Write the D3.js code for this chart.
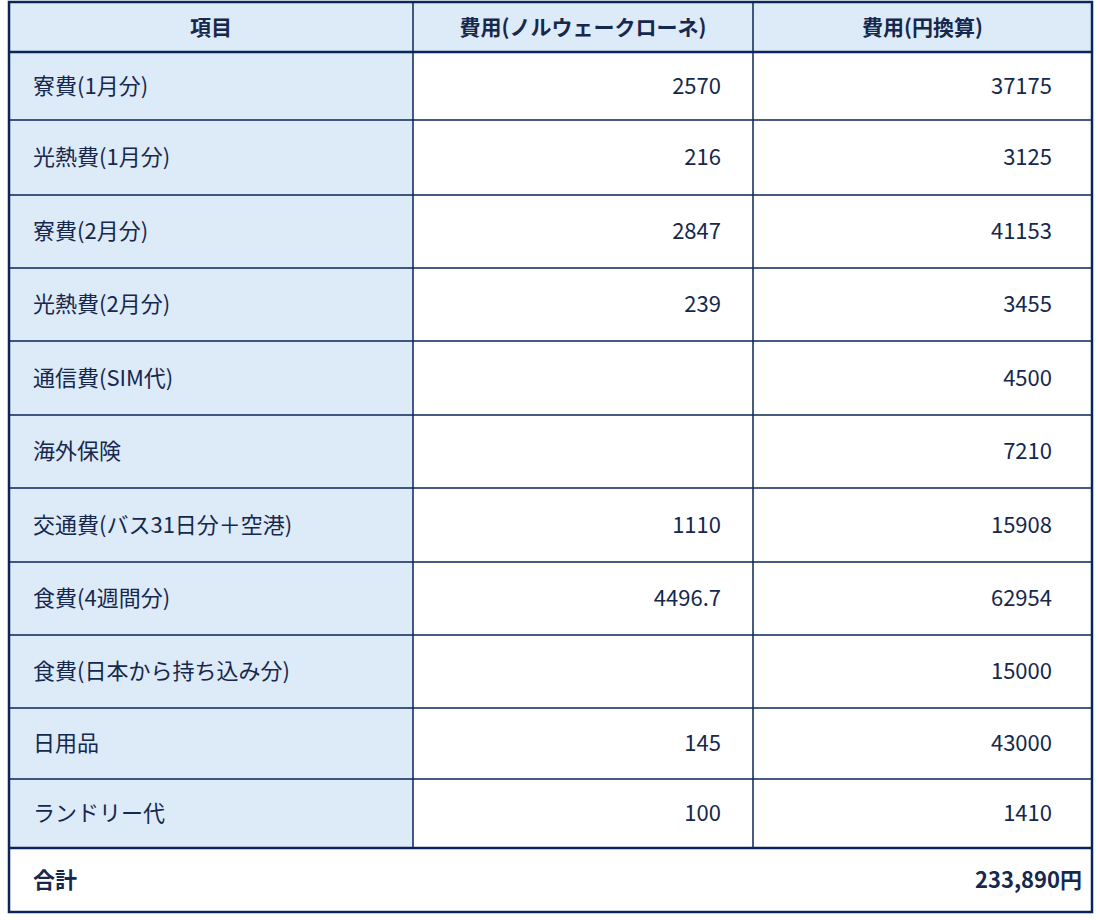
<!DOCTYPE html>
<html><head><meta charset="utf-8">
<script src="https://cdn.jsdelivr.net/npm/d3@7"></script>
<style>body{margin:0;background:#fff}</style></head>
<body><svg id="c" width="1100" height="920"></svg>
<script>
const headers = ["項目","費用(ノルウェークローネ)","費用(円換算)"];
const items = ["寮費(1月分)","光熱費(1月分)","寮費(2月分)","光熱費(2月分)","通信費(SIM代)","海外保険","交通費(バス31日分＋空港)","食費(4週間分)","食費(日本から持ち込み分)","日用品","ランドリー代"];
const nok = ["2570","216","2847","239","","","1110","4496.7","","145","100"];
const jpy = ["37175","3125","41153","3455","4500","7210","15908","62954","15000","43000","1410"];
const totalLabel = "合計";
const totalValue = "233,890円";

const svg = d3.select("#c");
const font = "'Noto Sans CJK JP','Noto Sans',sans-serif";
const navy = "#0b2559", txt = "#16284d", light = "#ddeaf8";
const colX = [9,413,753,1092];
const rowY = [2,52,120,195,268,341,415,488,562,635,708,779,848,912];

// header
headers.forEach((h,i)=>{
  svg.append("rect").attr("x",colX[i]).attr("y",rowY[0]).attr("width",colX[i+1]-colX[i]).attr("height",rowY[1]-rowY[0]).attr("fill",light);
  svg.append("text").attr("x",(colX[i]+colX[i+1])/2).attr("y",(rowY[0]+rowY[1])/2).attr("dy","0.36em")
    .attr("text-anchor","middle").attr("font-family",font).attr("font-weight","bold").attr("font-size",21).attr("fill",txt).text(h);
});
items.forEach((it,r)=>{
  const y0=rowY[r+1], y1=rowY[r+2], cy=(y0+y1)/2;
  svg.append("rect").attr("x",colX[0]).attr("y",y0).attr("width",colX[1]-colX[0]).attr("height",y1-y0).attr("fill",light);
  svg.append("text").attr("x",colX[0]+24).attr("y",cy).attr("dy","0.36em").attr("font-family",font).attr("font-size",22).attr("fill",txt).text(it);
  svg.append("text").attr("x",colX[2]-32).attr("y",cy).attr("dy","0.36em").attr("text-anchor","end").attr("font-family",font).attr("font-size",22).attr("fill",txt).text(nok[r]);
  svg.append("text").attr("x",colX[3]-40).attr("y",cy).attr("dy","0.36em").attr("text-anchor","end").attr("font-family",font).attr("font-size",22).attr("fill",txt).text(jpy[r]);
});
// total
const ty=(rowY[12]+rowY[13])/2;
svg.append("text").attr("x",colX[0]+24).attr("y",ty).attr("dy","0.36em").attr("font-family",font).attr("font-weight","bold").attr("font-size",22).attr("fill",txt).text(totalLabel);
svg.append("text").attr("x",colX[3]-10).attr("y",ty).attr("dy","0.36em").attr("text-anchor","end").attr("font-family",font).attr("font-weight","bold").attr("font-size",22).attr("fill",txt).text(totalValue);

// grid lines
for(let i=1;i<rowY.length-1;i++){
  const thick = (i===1||i===12);
  svg.append("line").attr("x1",colX[0]).attr("x2",colX[3]).attr("y1",rowY[i]).attr("y2",rowY[i]).attr("stroke",navy).attr("stroke-width",thick?2.5:1.5);
}
[1,2].forEach(c=>svg.append("line").attr("x1",colX[c]).attr("x2",colX[c]).attr("y1",rowY[0]).attr("y2",rowY[12]).attr("stroke",navy).attr("stroke-width",1.5));
svg.append("rect").attr("x",colX[0]).attr("y",rowY[0]).attr("width",colX[3]-colX[0]).attr("height",rowY[13]-rowY[0]).attr("fill","none").attr("stroke",navy).attr("stroke-width",2.5);
</script></body></html>
